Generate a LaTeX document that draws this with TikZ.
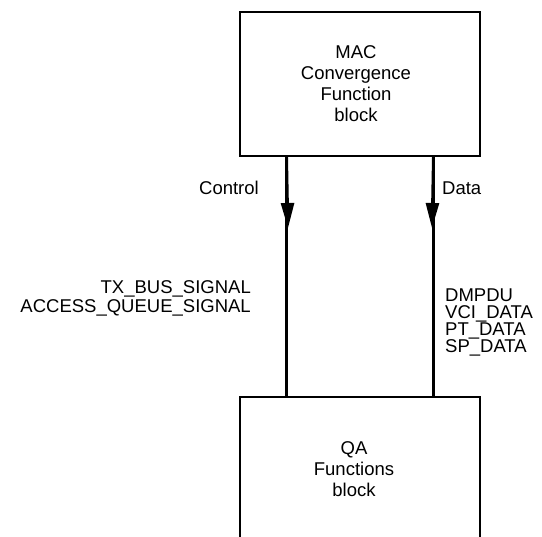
\documentclass[tikz,border=0pt]{standalone}
\usepackage{fontspec}
\setmainfont{Liberation Sans}
\usetikzlibrary{arrows.meta}
\tikzset{
  x=1pt, y=-1pt,
  blockbox/.style={draw, line width=2.6pt, minimum width=240pt, inner sep=0pt},
  conn/.style={line width=2.6pt},
  tipconn/.style={line width=2.6pt, -{Triangle[length=25pt,width=13pt]}},
  txt/.style={font=\fontsize{18.5}{21}\selectfont, inner sep=0pt, align=center},
  lbl/.style={font=\fontsize{18.5}{21}\selectfont, inner sep=0pt}
}
\begin{document}
\begin{tikzpicture}
\useasboundingbox (0,0) rectangle (542,537);
\clip (0,0) rectangle (542,537);
% boxes
\node[blockbox, minimum height=144pt] (mac) at (360,84) {};
\node[blockbox, minimum height=180pt] (qa) at (360,487) {};
\node[txt] (mactext) at (356,84) {MAC\\Convergence\\Function\\block};
\node[txt] (qatext) at (354,469) {QA\\Functions\\block};
% connectors
\coordinate (ctop) at ([xshift=48pt]mac.south west);
\coordinate (cbot) at ([xshift=48pt]qa.north west);
\coordinate (ctip) at (288,228);
\coordinate (dtop) at ([xshift=-48pt]mac.south east);
\coordinate (dbot) at ([xshift=-48pt]qa.north east);
\coordinate (dtip) at (432,228);
\draw[conn] (ctop) -- (cbot);
\draw[conn] (dtop) -- (dbot);
\draw[tipconn] (ctop) -- (ctip);
\draw[tipconn] (dtop) -- (dtip);
% labels
\node[lbl, anchor=base east] (control) at (259,195) {Control};
\node[lbl, anchor=base west] (data) at (442,195) {Data};
\node[lbl, anchor=base east] (tx) at (251,294) {TX\_BUS\_SIGNAL};
\node[lbl, anchor=base east] (aq) at (251,313) {ACCESS\_QUEUE\_SIGNAL};
\node[lbl, anchor=base west] (dm) at (445,302) {DMPDU};
\node[lbl, anchor=base west] (vci) at (445,319) {VCI\_DATA};
\node[lbl, anchor=base west] (pt) at (445,336) {PT\_DATA};
\node[lbl, anchor=base west] (sp) at (445,353) {SP\_DATA};
\end{tikzpicture}
\end{document}
